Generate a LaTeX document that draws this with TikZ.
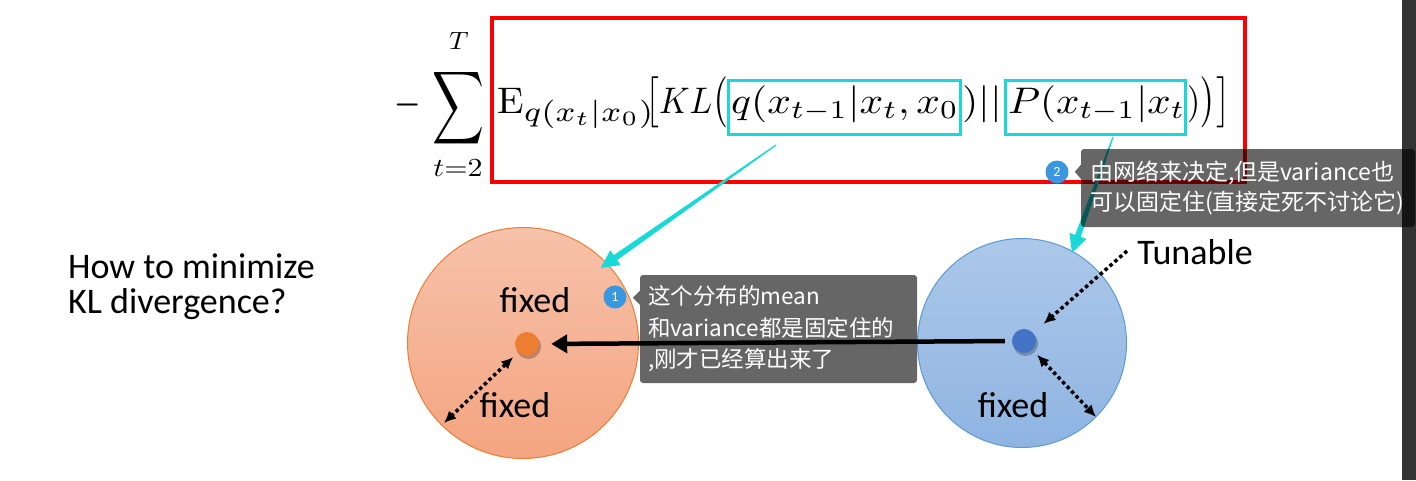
\documentclass[tikz,border=0pt]{standalone}
\usepackage{amsmath}
\usepackage{fontspec}
\newfontfamily\calibri{Carlito}
\newfontfamily\cjk{Noto Sans CJK SC}
\usetikzlibrary{arrows.meta,calc}
\definecolor{cyanc}{RGB}{24,216,216}
\definecolor{redc}{RGB}{255,0,0}
\definecolor{lctop}{RGB}{246,194,170}
\definecolor{lcbot}{RGB}{244,164,128}
\definecolor{lcbord}{RGB}{237,125,49}
\definecolor{rctop}{RGB}{172,200,233}
\definecolor{rcbot}{RGB}{143,180,226}
\definecolor{rcbord}{RGB}{91,155,213}
\definecolor{dotor}{RGB}{237,125,49}
\definecolor{dotbl}{RGB}{68,114,196}
\definecolor{numblue}{RGB}{58,150,221}
\definecolor{stripc}{RGB}{51,51,51}
\newcommand\tbl[1]{\mathopen{\scalebox{1}[1.15]{$\bigl#1$}}}
\newcommand\tbr[1]{\mathclose{\scalebox{1}[1.15]{$\bigr#1$}}}
\newcommand\taperarrow[2]{%
  \path coordinate (tb) at ($(#2)!18pt!(#1)$);
  \fill[cyanc] ($(#1)!0.6pt!90:(#2)$) -- ($(tb)!3pt!-90:(#1)$) -- ($(tb)!9pt!-90:(#1)$)
    -- (#2) -- ($(tb)!9pt!90:(#1)$) -- ($(tb)!3pt!90:(#1)$) -- ($(#1)!0.6pt!-90:(#2)$) -- cycle;}
\begin{document}
\begin{tikzpicture}[x=1pt,y=1pt,
  fm/.style={inner sep=0, anchor=base west},
  cybox/.style={draw=cyanc, line width=3, inner sep=0},
  lbl/.style={inner sep=0, font=\calibri\fontsize{36}{40}\selectfont},
  dotarrow/.style={line width=3.5, dash pattern=on 3.5pt off 3pt, line cap=butt},
  callout/.style={fill=black, fill opacity=0.6, text opacity=1, text=white, rounded corners=3pt, align=left, inner xsep=8, inner ysep=0},
  numc/.style={circle, fill=numblue, minimum size=23, inner sep=0, text=white, font=\calibri\fontsize{14}{14}\selectfont}
]
\useasboundingbox (0,0) rectangle (1416,-480);
\fill[white] (0,0) rectangle (1416,-480);
\fill[stripc] (1402,0) rectangle (1416,-480);

% red frame
\node[draw=redc, line width=4, inner sep=0, minimum width=753, minimum height=164] (rb) at (868.5,-100) {};

% formula
\node[inner sep=0] (minus) at (408,-105) {\scalebox{3.4}[5]{$-$}};
\node[inner sep=0] (sig) at (458,-108) {\scalebox{3.6}[5.1]{$\displaystyle\sum$}};
\node[inner sep=0] (supT) at (459,-41) {\scalebox{2.7}[2.5]{$T$}};
\node[inner sep=0] (subt) at (458,-168) {\scalebox{3}[2.6]{$t{=}2$}};
\node[fm] (fa1) at (497,-113) {\scalebox{3.9}[3.7]{$\mathrm{E}_{\scalebox{1.15}[1.1]{$\scriptstyle q(x_t|x_0)$}}$}};
\node[fm] (fa2) at (645,-113) {\scalebox{3.33}[3.7]{$\tbl[KL\tbl($}};
\node[fm] (fb) at (731,-113) {\scalebox{4.15}[3.7]{$q(x_{t-1}|x_t,x_0$}};
\node[fm] (fc) at (962,-113) {\scalebox{4.2}[3.7]{$)||$}};
\node[fm] (fd) at (1008,-113) {\scalebox{4.1}[3.7]{$P(x_{t-1}|x_t$}};
\node[fm] (fe) at (1187,-113) {\scalebox{3.4}[3.7]{$)\tbr)\tbr]$}};

% cyan boxes
\node[cybox, minimum width=232, minimum height=54] (b1) at (844.5,-107) {};
\node[cybox, minimum width=180, minimum height=54] (b2) at (1095,-107) {};

% circles
\node[circle, minimum size=231, inner sep=0, draw=lcbord, line width=1, top color=lctop, bottom color=lcbot] (lc) at (523,-343) {};
\node[circle, minimum size=209, inner sep=0, draw=rcbord, line width=1, top color=rctop, bottom color=rcbot] (rc) at (1022,-343) {};

% dots
\fill[black, opacity=0.25] (528.5,-346.5) circle (12.5);
\node[circle, fill=dotor, minimum size=24, inner sep=0] (ldot) at (527,-344) {};
\fill[black, opacity=0.25] (1025.5,-343.5) circle (12.5);
\node[circle, fill=dotbl, minimum size=24, inner sep=0] (rdot) at (1024,-341) {};

% labels
\node[lbl] (f1) at (535,-300) {fixed};
\node[lbl] (f2) at (515,-405) {fixed};
\node[lbl] (f3) at (1013,-405) {fixed};
\node[lbl] (tun) at (1195,-252) {Tunable};
\node[inner sep=0, anchor=base west, font=\calibri\fontsize{36}{35}\selectfont] (q1) at (68,-278) {How to minimize};
\node[inner sep=0, anchor=base west, font=\calibri\fontsize{36}{35}\selectfont] (q2) at (68,-313) {KL divergence?};

% dotted arrows
\coordinate (lrim) at (444,-423);
\coordinate (rrim) at (1096,-417);
\coordinate (tt) at (1127,-251);
\draw[dotarrow, {Latex[length=12pt,width=11pt]}-{Latex[length=12pt,width=11pt]}, shorten <=19pt] (ldot.center) -- (lrim);
\draw[dotarrow, {Latex[length=12pt,width=11pt]}-{Latex[length=12pt,width=11pt]}, shorten <=19pt] (rdot.center) -- (rrim);
\draw[dotarrow, -{Latex[length=12pt,width=11pt]}, shorten >=26pt] (tt) -- (rdot.center);

% black arrow
\draw[line width=4.5, -{Triangle[length=16pt,width=18pt]}, shorten <=7pt, shorten >=12pt] (rdot.west) -- (ldot.east);

% cyan arrows
\coordinate (c1t) at (776,-145);
\coordinate (c2t) at (1113,-137);
\coordinate (c1h) at ($(lc.center)+(44:108)$);
\coordinate (c2h) at ($(rc.center)+(61:103)$);
\taperarrow{c1t}{c1h}
\taperarrow{c2t}{c2h}

% callouts
\node[callout, text width=261, minimum height=108, font=\cjk\fontsize{22.5}{31.5}\selectfont] (co1) at (778.5,-329) {这个分布的mean\\和variance都是固定住的\\,刚才已经算出来了};
\fill[black, opacity=0.6] ($(co1.north west)+(0,-16)$) -- ($(co1.north west)+(-7,-23)$) -- ($(co1.north west)+(0,-30)$) -- cycle;
\node[callout, text width=316, inner xsep=9, minimum height=78, font=\cjk\fontsize{23}{29.5}\selectfont] (co2) at (1248,-188) {由网络来决定,但是variance也\\可以固定住(直接定死不讨论它)};
\fill[black, opacity=0.6] ($(co2.north west)+(0,-16)$) -- ($(co2.north west)+(-6,-23)$) -- ($(co2.north west)+(0,-30)$) -- cycle;
\node[numc] (n1) at (615,-297) {1};
\node[numc] (n2) at (1057,-172) {2};
\end{tikzpicture}
\end{document}
